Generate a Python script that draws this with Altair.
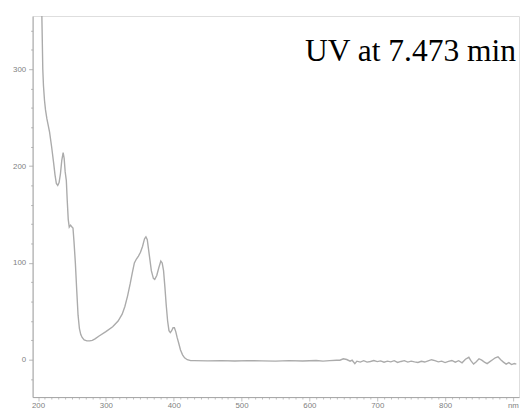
import altair as alt
import pandas as pd

title_text = "UV at 7.473 min"

wavelength = [
    203, 204.5, 206, 207, 208, 209.5, 211, 213, 215, 217, 220, 223, 225, 227, 229, 231, 233, 235, 237,
    238.5, 240, 241.7, 243, 244.5, 246, 248, 250, 251.5, 253, 255, 257, 259, 261, 263, 265, 268, 272,
    276, 280, 284, 290, 300, 310, 318, 324, 328, 332, 336, 339, 342, 345, 348, 351, 354, 357, 359, 361,
    364, 367, 370, 372, 375, 378, 381, 383, 385, 387, 389, 391, 393, 395, 397, 399, 401, 403, 405, 407,
    410, 413, 416, 420, 425, 430, 450, 470, 490, 510, 530, 550, 570, 590, 610, 620, 630, 640,
    645, 650, 655, 660, 663, 667, 670, 675, 680, 685, 690, 695, 700, 705, 710, 715, 720, 725, 730, 735,
    740, 745, 750, 755, 760, 765, 770, 775, 780, 785, 790, 795, 800, 805, 810, 815, 820, 825, 830, 835,
    838, 842, 846, 850, 854, 858, 862, 866, 870, 874, 878, 882, 886, 890, 894, 898, 902, 905,
]
absorbance = [
    460, 400, 340, 300, 283, 268, 258, 249, 242, 235, 220, 203, 191, 182, 180, 183, 192, 206, 214,
    208, 194, 185, 165, 145, 137, 139, 137, 136, 122, 100, 72, 46, 32, 26, 23, 20.5, 19.5,
    19.5, 20, 21.5, 24.5, 29, 34, 40, 47, 55, 66, 79, 90, 100, 104, 107, 111, 117, 125, 127, 124,
    108, 92, 84, 83, 87, 95, 102, 100, 92, 75, 56, 40, 30, 28, 30, 33, 33, 29, 23, 18,
    10, 5, 2, 0, -1, -1, -1.2, -1, -1.3, -1, -1.2, -1.5, -1, -1.3, -0.8, -1.5, -1, -0.5,
    -0.5, 1.0, 0.2, -1.5, -0.5, -4.0, -1.5, -2.5, -1.0, -2.5, -1.8, -0.8, -2.0, -1.2, -2.6, -1.5, -2.2, -1.0, -2.8, -1.8,
    -1.0, -2.5, -1.5, -2.2, -2.8, -1.6, -2.4, -1.2, 0.0, -1.0, -2.2, -1.5, -3.0, -1.8, -0.8, -2.5, -1.0, -3.2, 0.5, 2.5,
    -1.0, -4.5, -2.0, 1.0, -0.5, -2.5, -4.0, -2.0, 0.0, 2.0, 3.0, 0.0, -2.5, -4.5, -3.0, -5.0, -4.0, -4.5,
]

x_ticks = list(range(200, 910, 10))
y_ticks = list(range(-20, 360, 20))

df = pd.DataFrame({"nm": wavelength, "A": absorbance})

axis_gray = "#a5a5a5"

line = alt.Chart(df).mark_line(color="#ababab", strokeWidth=1.4, clip=True).encode(
    x=alt.X(
        "nm:Q",
        scale=alt.Scale(domain=[192, 909], nice=False, zero=False),
        axis=alt.Axis(
            values=x_ticks,
            title=None,
            grid=False,
            labelExpr="datum.value == 900 ? 'nm' : (datum.value % 100 == 0 ? datum.label : '')",
            tickSize=alt.condition("datum.value % 100 == 0", alt.value(4), alt.value(2)),
            labelFont="Liberation Sans",
            labelFontSize=8,
            labelColor="#808080",
            labelPadding=1,
            domainColor=axis_gray,
            tickColor="#c0c0c0",
            labelFlush=False,
            labelOverlap=False,
        ),
    ),
    y=alt.Y(
        "A:Q",
        scale=alt.Scale(domain=[-38.6, 355], nice=False, zero=False),
        axis=alt.Axis(
            values=y_ticks,
            title=None,
            grid=False,
            labelExpr="datum.value % 100 == 0 ? datum.label : ''",
            tickSize=alt.condition("datum.value % 100 == 0", alt.value(4), alt.value(2)),
            labelFont="Liberation Sans",
            labelFontSize=8,
            labelColor="#808080",
            labelPadding=3,
            domainColor=axis_gray,
            tickColor="#b5b5b5",
            labelOverlap=False,
        ),
    ),
)

label = alt.Chart(pd.DataFrame({"t": [title_text]})).mark_text(
    font="Liberation Serif", fontSize=32, color="black", align="right", baseline="alphabetic"
).encode(text="t:N", x=alt.value(491), y=alt.value(46))

chart = (line + label).properties(
    width=494,
    height=387,
    autosize=alt.AutoSizeParams(type="none"),
    padding={"left": 25, "top": 5, "right": 2, "bottom": 12},
).configure_view(stroke=None).configure(background="white")

chart.save("out.html", embed_options={"renderer": "svg", "actions": False})
